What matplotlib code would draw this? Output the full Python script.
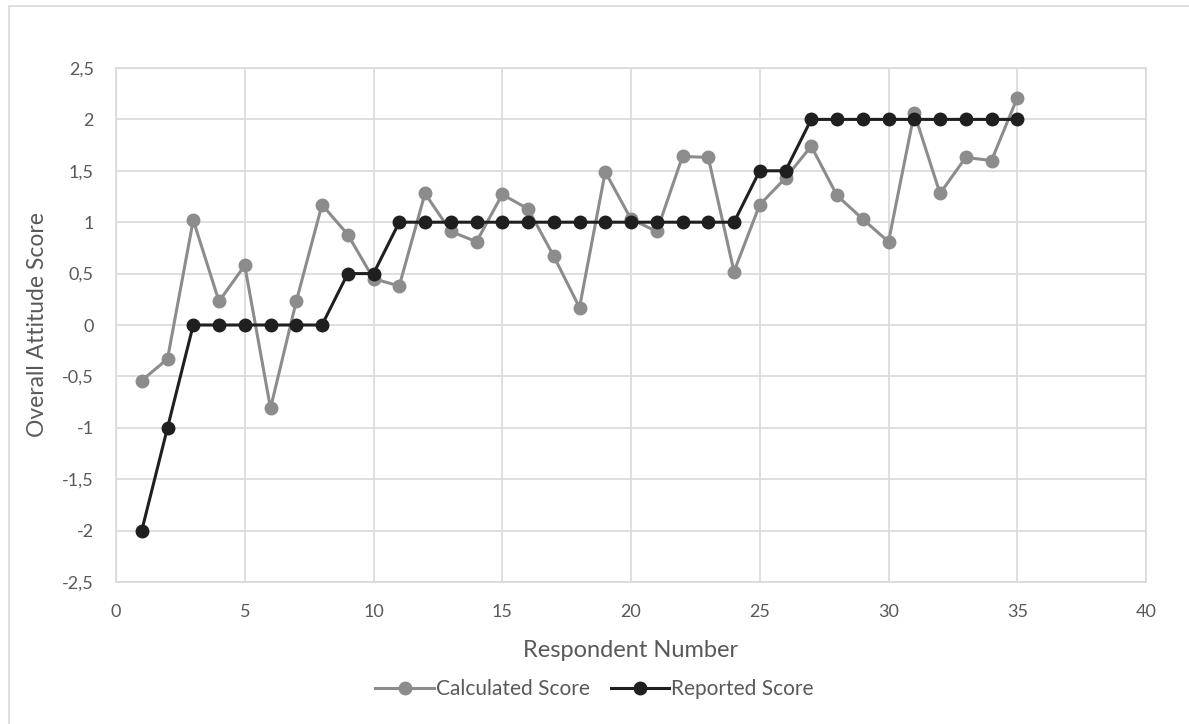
import matplotlib
matplotlib.use("Agg")
import matplotlib.pyplot as plt
from matplotlib.patches import Rectangle
from matplotlib.ticker import FuncFormatter

plt.rcParams['font.family'] = ['Lato', 'DejaVu Sans']

respondents = list(range(1, 36))
calculated = [-0.54, -0.33, 1.02, 0.23, 0.58, -0.81, 0.23, 1.17, 0.88, 0.45,
              0.38, 1.28, 0.91, 0.81, 1.27, 1.13, 0.67, 0.17, 1.49, 1.03,
              0.91, 1.64, 1.63, 0.52, 1.17, 1.43, 1.74, 1.26, 1.03, 0.81,
              2.06, 1.28, 1.63, 1.60, 2.21]
reported = [-2, -1, 0, 0, 0, 0, 0, 0, 0.5, 0.5,
            1, 1, 1, 1, 1, 1, 1, 1, 1, 1,
            1, 1, 1, 1, 1.5, 1.5, 2, 2, 2, 2,
            2, 2, 2, 2, 2]
x_ticks = [0, 5, 10, 15, 20, 25, 30, 35, 40]
y_ticks = [-2.5, -2, -1.5, -1, -0.5, 0, 0.5, 1, 1.5, 2, 2.5]

W, H = 1189, 724
fig = plt.figure(figsize=(W / 100, H / 100), dpi=100)
fig.patches.append(Rectangle((9 / W, -0.1), 1.2, 1 - 6 / H + 0.1, transform=fig.transFigure,
                             fill=False, edgecolor='#d9d9d9', linewidth=1.2, zorder=0))

ax = fig.add_axes([116 / W, 1 - 582 / H, (1146 - 116) / W, (582 - 68) / H])
ax.plot(respondents, calculated, color='#8c8c8c', linewidth=2.2, marker='o',
        markersize=9, label='Calculated Score', zorder=3)
ax.plot(respondents, reported, color='#1f1f1f', linewidth=2.2, marker='o',
        markersize=9, label='Reported Score', zorder=4)

ax.set_xlim(0, 40)
ax.set_ylim(-2.5, 2.5)
ax.set_xticks(x_ticks)
ax.set_yticks(y_ticks)
fmt = FuncFormatter(lambda v, p: ('%g' % v).replace('.', ','))
ax.yaxis.set_major_formatter(fmt)
ax.grid(True, color='#d9d9d9', linewidth=1.2, zorder=0)
ax.set_axisbelow(True)
for s in ax.spines.values():
    s.set_color('#d9d9d9')
    s.set_linewidth(1.2)
ax.tick_params(length=0, labelsize=13, labelcolor='#595959', pad=16)
ax.set_xlabel('Respondent Number', fontsize=17, color='#595959', labelpad=14)
ax.set_ylabel('Overall Attitude Score', fontsize=16.5, color='#595959', labelpad=10)

leg = fig.legend(loc='center', bbox_to_anchor=(0.5, 1 - 689 / H), ncol=2, frameon=False,
                 fontsize=15, labelcolor='#595959', handlelength=2.8, handletextpad=0.1,
                 columnspacing=1.0)

fig.savefig('out.png', dpi=100)
